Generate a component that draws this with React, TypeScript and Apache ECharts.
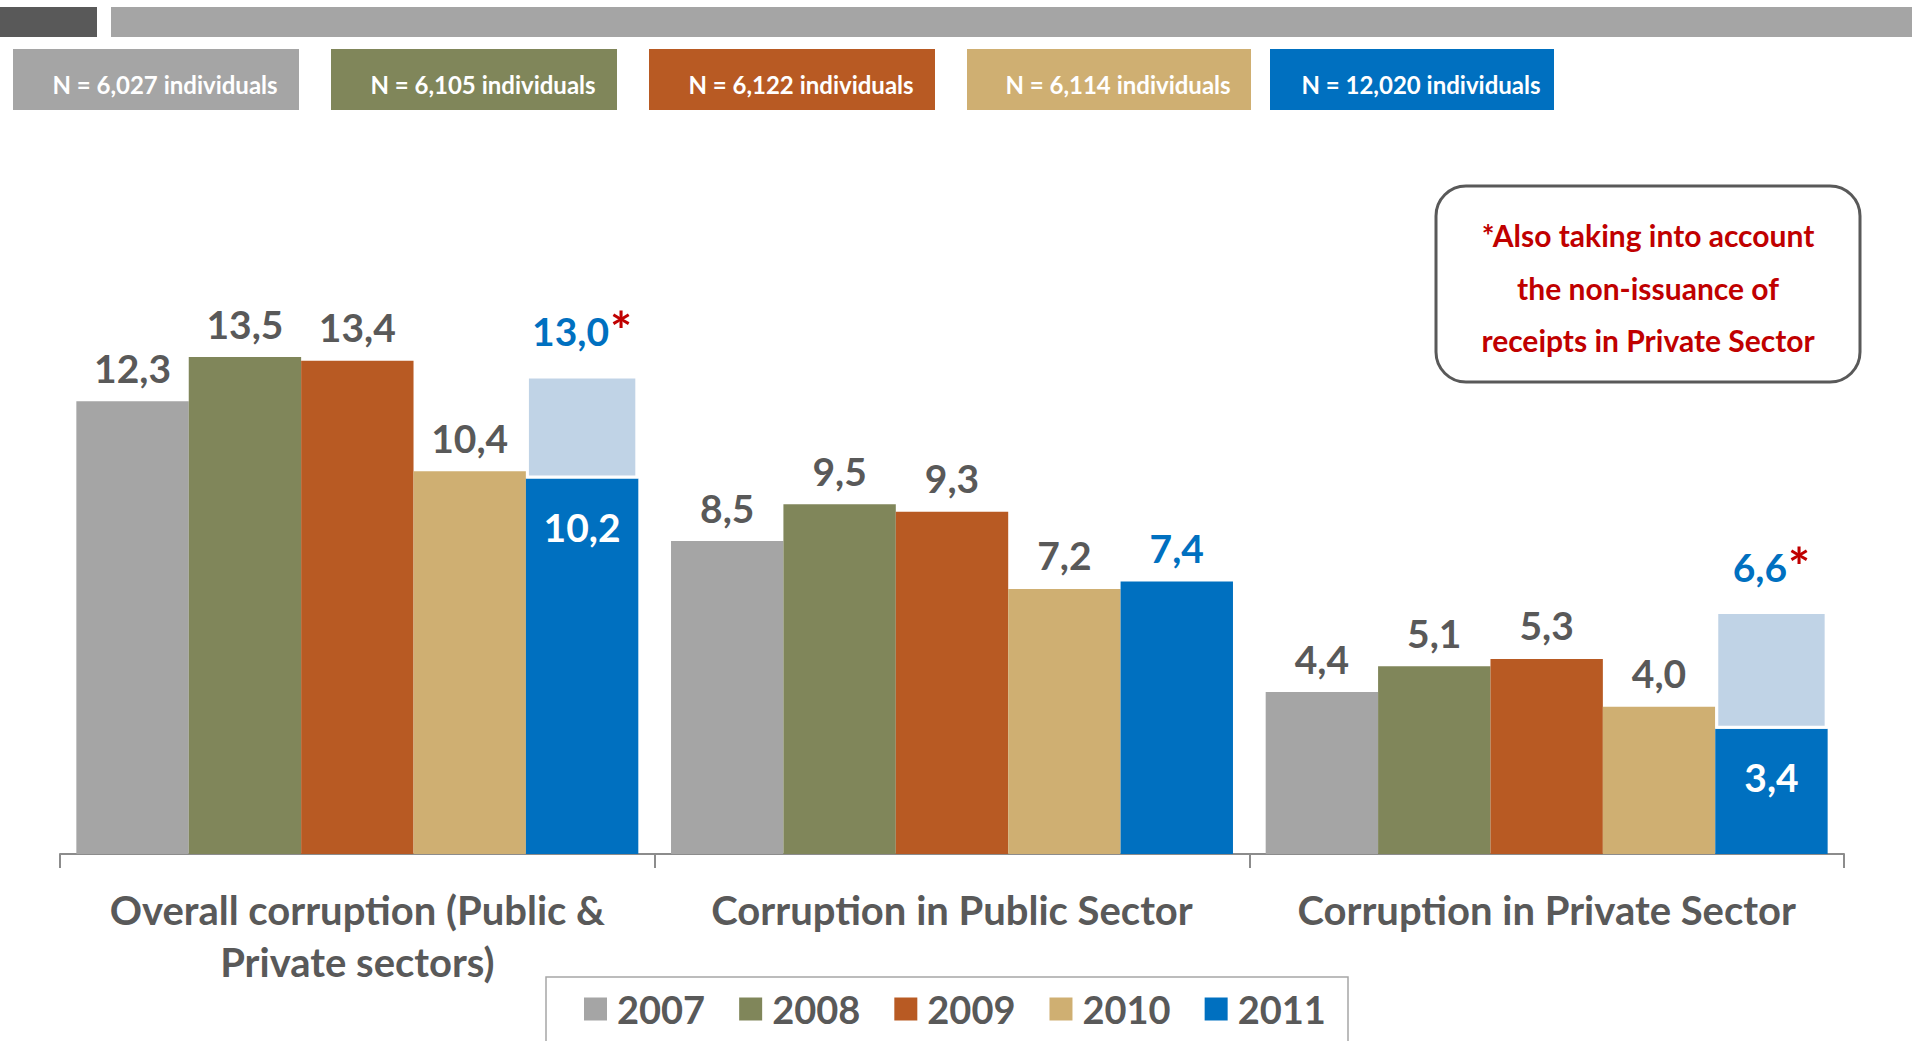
import React, { useEffect, useRef } from "react";
import * as echarts from "echarts";

const categories = [
  "Overall corruption (Public &\nPrivate sectors)",
  "Corruption in Public Sector",
  "Corruption in Private Sector",
];
const years = ["2007", "2008", "2009", "2010", "2011"];
const v2007 = [12.3, 8.5, 4.4];
const v2008 = [13.5, 9.5, 5.1];
const v2009 = [13.4, 9.3, 5.3];
const v2010 = [10.4, 7.2, 4.0];
const v2011 = [10.2, 7.4, 3.4];
// 2011 values also taking into account the non-issuance of receipts
const v2011Adjusted: (number | null)[] = [13.0, null, 6.6];
const sampleSizes = [
  "N = 6,027 individuals",
  "N = 6,105 individuals",
  "N = 6,122 individuals",
  "N = 6,114 individuals",
  "N = 12,020 individuals",
];
const noteLines = [
  "*Also taking into account",
  "the non-issuance of",
  "receipts in Private Sector",
];

const yearColors = ["#A5A5A5", "#80865A", "#B85A23", "#CFAF72", "#0070C0"];
const lightBlue = "#C0D3E6";
const labelGray = "#595959";
const FONT = "Lato, 'Noto Sans', sans-serif";

const fmt = (v: number) => v.toFixed(1).replace(".", ",");

export default function App() {
  const ref = useRef<HTMLDivElement>(null);
  useEffect(() => {
    if (!ref.current) return;
    const chart = echarts.init(ref.current, undefined, { renderer: "svg" });
    const valuesByYear = [v2007, v2008, v2009, v2010, v2011];

    const series: any[] = [];
    for (let i = 0; i < 4; i++) {
      series.push({
        name: years[i],
        type: "bar",
        barGap: "0%",
        barCategoryGap: "5.5%",
        data: valuesByYear[i],
        itemStyle: { color: yearColors[i] },
        label: {
          show: true,
          position: "top",
          distance: 14,
          color: labelGray,
          fontSize: 39,
          fontWeight: "bold",
          fontFamily: FONT,
          formatter: (p: any) => fmt(p.value),
        },
      });
    }
    series.push({
      name: "2011",
      type: "bar",
      stack: "s2011",
      barGap: "0%",
      barCategoryGap: "5.5%",
      itemStyle: { color: yearColors[4] },
      data: v2011.map((v, i) => ({
        value: v,
        label:
          v2011Adjusted[i] == null
            ? {
                show: true,
                position: "top",
                distance: 14,
                color: yearColors[4],
                fontSize: 39,
                fontWeight: "bold",
                fontFamily: FONT,
                formatter: fmt(v),
              }
            : {
                show: true,
                position: "insideTop",
                distance: 29,
                color: "#FFFFFF",
                fontSize: 39,
                fontWeight: "bold",
                fontFamily: FONT,
                formatter: fmt(v),
              },
      })),
    });
    series.push({
      name: "2011 adjusted",
      type: "bar",
      stack: "s2011",
      barGap: "0%",
      barCategoryGap: "5.5%",
      itemStyle: { color: lightBlue, borderColor: "#FFFFFF", borderWidth: 3 },
      data: v2011Adjusted.map((a, i) =>
        a == null
          ? "-"
          : {
              value: +(a - v2011[i]).toFixed(1),
              label: {
                show: true,
                position: "top",
                distance: 20,
                formatter: `{v|${fmt(a)}}{s|*}`,
                rich: {
                  v: {
                    color: yearColors[4],
                    fontSize: 39,
                    fontWeight: "bold",
                    fontFamily: FONT,
                    lineHeight: 48,
                  },
                  s: {
                    color: "#C00000",
                    fontSize: 52,
                    fontWeight: "bold",
                    fontFamily: FONT,
                    lineHeight: 48,
                    padding: [0, 0, 2, 1],
                  },
                },
              },
            }
      ),
    });

    const boxX = [13, 331, 649, 967, 1270];
    const boxW = [286, 286, 286, 284, 284];
    const graphics: any[] = [
      { type: "rect", shape: { x: 0, y: 7, width: 97, height: 30 }, style: { fill: "#595959" } },
      { type: "rect", shape: { x: 111, y: 7, width: 1801, height: 30 }, style: { fill: "#A5A5A5" } },
    ];
    sampleSizes.forEach((s, i) => {
      graphics.push({
        type: "rect",
        shape: { x: boxX[i], y: 49, width: boxW[i], height: 61 },
        style: { fill: yearColors[i] },
      });
      graphics.push({
        type: "text",
        x: boxX[i] + boxW[i] / 2 + 9,
        y: 84,
        style: {
          text: s,
          fill: "#FFFFFF",
          font: `bold 24px ${FONT}`,
          align: "center",
          verticalAlign: "middle",
        },
      });
    });
    graphics.push({
      type: "rect",
      shape: { x: 1436, y: 186, width: 424, height: 196, r: 30 },
      style: { fill: "#FFFFFF", stroke: "#595959", lineWidth: 3 },
    });
    noteLines.forEach((t, i) => {
      graphics.push({
        type: "text",
        x: 1648,
        y: 235 + i * 52.5,
        style: {
          text: t,
          fill: "#C00000",
          font: `bold 30px ${FONT}`,
          align: "center",
          verticalAlign: "middle",
        },
      });
    });
    graphics.push({
      type: "rect",
      shape: { x: 546, y: 977, width: 802, height: 80 },
      style: { fill: "none", stroke: "#A6A6A6", lineWidth: 1.5 },
    });

    chart.setOption({
      animation: false,
      textStyle: { fontFamily: FONT },
      grid: { left: 60, right: 72, top: 265, bottom: 187 },
      xAxis: {
        type: "category",
        data: categories,
        axisLine: { lineStyle: { color: "#8C8C8C", width: 2 } },
        axisTick: { show: true, length: 14, lineStyle: { color: "#8C8C8C", width: 2 } },
        axisLabel: {
          color: labelGray,
          fontSize: 40,
          fontWeight: "bold",
          fontFamily: FONT,
          lineHeight: 52,
          margin: 30,
          interval: 0,
        },
      },
      yAxis: {
        type: "value",
        min: 0,
        max: 16,
        show: false,
        splitLine: { show: false },
      },
      legend: {
        data: years,
        left: 584,
        top: 987,
        padding: 0,
        icon: "rect",
        itemWidth: 23,
        itemHeight: 23,
        itemGap: 34,
        textStyle: {
          color: labelGray,
          fontSize: 38,
          fontWeight: "bold",
          fontFamily: FONT,
          lineHeight: 44,
          padding: [0, 0, 0, 5],
        },
      },
      graphic: graphics,
      series,
    });
    return () => chart.dispose();
  }, []);
  return (
    <div
      ref={ref}
      style={{ position: "fixed", left: 0, top: 0, width: 1916, height: 1041, background: "#FFFFFF" }}
    />
  );
}
